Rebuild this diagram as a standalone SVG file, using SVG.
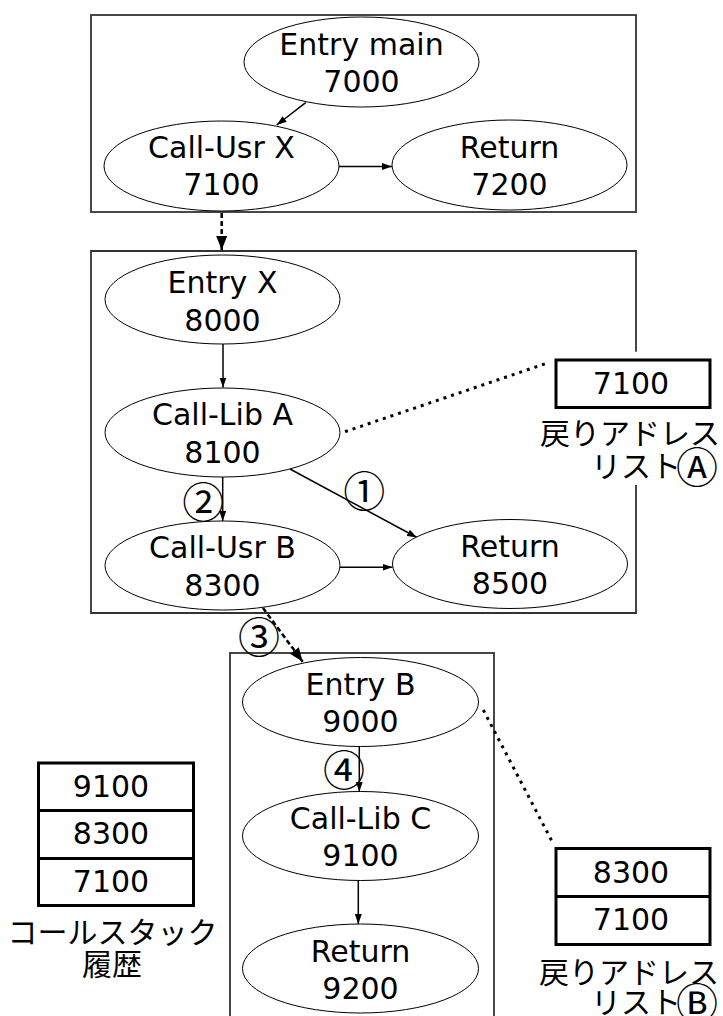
<svg xmlns="http://www.w3.org/2000/svg" width="723" height="1016" viewBox="0 0 723 1016">
<defs>
<style>
.grp{fill:none;stroke:#333;stroke-width:1.8}
.nd{fill:#fff;stroke:#000;stroke-width:1}
.t{font-family:"DejaVu Sans","Noto Sans CJK JP",sans-serif;font-size:30px;fill:#000;text-anchor:middle}
.c{font-family:"Noto Sans CJK JP","DejaVu Sans",sans-serif;font-size:42px;fill:#000;text-anchor:middle}
.j{font-family:"Noto Sans CJK JP","DejaVu Sans",sans-serif;font-size:30px;fill:#000;text-anchor:middle}
.e{stroke:#000;stroke-width:1.5;fill:none}
.dash{stroke:#000;stroke-width:2.5;fill:none;stroke-dasharray:5 3}
.dot{stroke:#000;stroke-width:3;fill:none;stroke-dasharray:3 5}
.lst{fill:#fff;stroke:#000;stroke-width:3}
</style>
<marker id="ah" markerUnits="userSpaceOnUse" markerWidth="10" markerHeight="8" refX="10" refY="4" orient="auto"><path d="M0,0.5 L10,4 L0,7.5 z" fill="#000"/></marker>
<marker id="ahb" markerUnits="userSpaceOnUse" markerWidth="14" markerHeight="12" refX="14" refY="6" orient="auto"><path d="M0,0.5 L14,6 L0,11.5 z" fill="#000"/></marker>
</defs>

<g id="frames">
<rect class="grp" x="91" y="15" width="545" height="197"/>
<path class="grp" d="M636,351.7 V251 H91 V613 H636 V485"/>
<rect class="grp" x="230" y="653" width="264" height="380"/>
</g>

<g id="connectors">
<line class="e" x1="305.7" y1="102.7" x2="276.7" y2="125" marker-end="url(#ah)"/>
<line class="e" x1="339" y1="166.5" x2="392" y2="166.5" marker-end="url(#ah)"/>
<line class="dash" x1="221.7" y1="213" x2="221.7" y2="250" marker-end="url(#ahb)"/>
<line class="e" x1="223" y1="344" x2="223" y2="387.5" marker-end="url(#ah)"/>
<line class="e" x1="222.7" y1="477" x2="222.7" y2="521" marker-end="url(#ah)"/>
<line class="e" x1="290" y1="469" x2="417" y2="537.5" marker-end="url(#ah)"/>
<line class="e" x1="340" y1="567.3" x2="392.5" y2="567.3" marker-end="url(#ah)"/>
<line class="dash" x1="263" y1="608" x2="302.7" y2="661.7" marker-end="url(#ahb)"/>
<line class="e" x1="359.3" y1="746.7" x2="359.3" y2="791.7" marker-end="url(#ah)"/>
<line class="e" x1="358.3" y1="880.7" x2="358.3" y2="924" marker-end="url(#ah)"/>
<line class="dot" x1="345" y1="431.7" x2="548.3" y2="362.7"/>
<line class="dot" x1="483.3" y1="710" x2="552.7" y2="842.7"/>
<text class="c" x="364.3" y="506.7">①</text>
<text class="c" x="203.3" y="518.4">②</text>
<text class="c" x="259" y="653.4">③</text>
<text class="c" x="344" y="786">④</text>
</g>

<g id="entry-main"><ellipse class="nd" cx="361.5" cy="62" rx="117.5" ry="45"/><text class="t" x="361.5" y="55">Entry main</text><text class="t" x="361.5" y="92">7000</text></g>
<g id="call-usr-x"><ellipse class="nd" cx="221.5" cy="166" rx="117.5" ry="45"/><text class="t" x="221.5" y="158">Call-Usr X</text><text class="t" x="221.5" y="195">7100</text></g>
<g id="return-7200"><ellipse class="nd" cx="509.5" cy="165" rx="117.5" ry="45"/><text class="t" x="509.5" y="158">Return</text><text class="t" x="509.5" y="195">7200</text></g>

<g id="entry-x"><ellipse class="nd" cx="222.5" cy="299.5" rx="117.5" ry="44.5"/><text class="t" x="222.5" y="293">Entry X</text><text class="t" x="222.5" y="330.5">8000</text></g>
<g id="call-lib-a"><ellipse class="nd" cx="222.5" cy="432.5" rx="117.5" ry="44.5"/><text class="t" x="222.5" y="425">Call-Lib A</text><text class="t" x="222.5" y="462.5">8100</text></g>
<g id="call-usr-b"><ellipse class="nd" cx="222.5" cy="565.5" rx="117.5" ry="44.5"/><text class="t" x="222.5" y="558">Call-Usr B</text><text class="t" x="222.5" y="595.5">8300</text></g>
<g id="return-8500"><ellipse class="nd" cx="510" cy="564" rx="117.5" ry="44.5"/><text class="t" x="510" y="557">Return</text><text class="t" x="510" y="594">8500</text></g>

<g id="entry-b"><ellipse class="nd" cx="360.5" cy="702" rx="118" ry="44.5"/><text class="t" x="360.5" y="695">Entry B</text><text class="t" x="360.5" y="732">9000</text></g>
<g id="call-lib-c"><ellipse class="nd" cx="360.5" cy="836" rx="118" ry="44.5"/><text class="t" x="360.5" y="829">Call-Lib C</text><text class="t" x="360.5" y="866">9100</text></g>
<g id="return-9200"><ellipse class="nd" cx="360.5" cy="968.5" rx="118" ry="44.5"/><text class="t" x="360.5" y="961.5">Return</text><text class="t" x="360.5" y="998.5">9200</text></g>

<g id="return-list-a">
<rect class="lst" x="556" y="360" width="154" height="47.5"/>
<text class="t" x="631" y="393.5">7100</text>
<text class="j" x="630" y="444">戻りアドレス</text>
<text class="j" x="681" y="477" style="text-anchor:end">リスト</text>
<text class="c" x="697" y="482.5">Ⓐ</text>
</g>

<g id="return-list-b">
<rect class="lst" x="556" y="848.5" width="154" height="96"/>
<line class="lst" x1="556" y1="896.5" x2="710" y2="896.5"/>
<text class="t" x="631" y="883">8300</text>
<text class="t" x="631" y="930">7100</text>
<text class="j" x="629" y="983">戻りアドレス</text>
<text class="j" x="681" y="1013" style="text-anchor:end">リスト</text>
<text class="c" x="697" y="1019">Ⓑ</text>
</g>

<g id="call-stack">
<rect class="lst" x="38.5" y="763" width="155" height="142.5"/>
<line class="lst" x1="38.5" y1="810.5" x2="193.5" y2="810.5"/>
<line class="lst" x1="38.5" y1="858.5" x2="193.5" y2="858.5"/>
<text class="t" x="111" y="796.5">9100</text>
<text class="t" x="111" y="844">8300</text>
<text class="t" x="111" y="891.5">7100</text>
<text class="j" x="112.5" y="943">コールスタック</text>
<text class="j" x="112" y="975">履歴</text>
</g>
</svg>
